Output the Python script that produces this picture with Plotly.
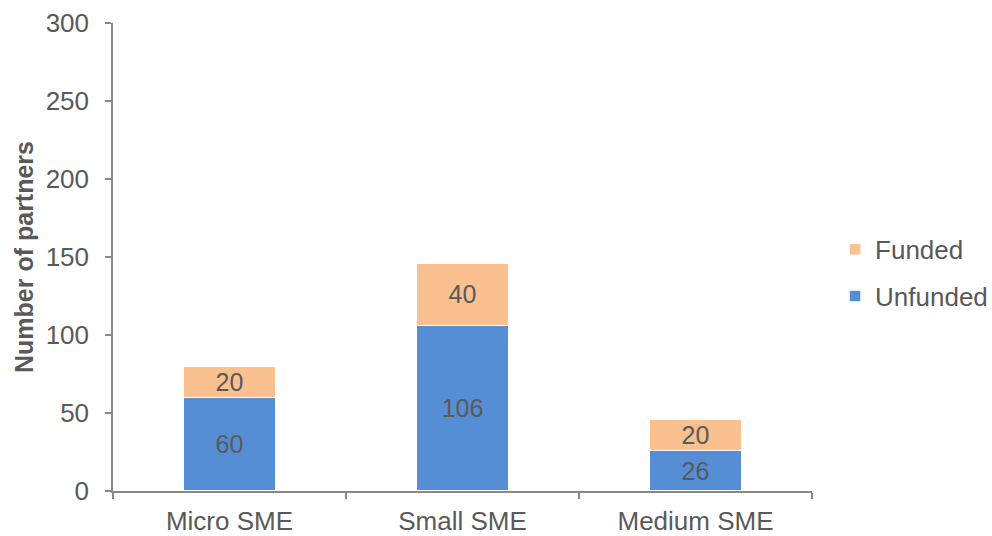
import plotly.graph_objects as go

categories = ["Micro SME", "Small SME", "Medium SME"]
unfunded = [60, 106, 26]
funded = [20, 40, 20]
y_ticks = [0, 50, 100, 150, 200, 250, 300]

TEXT = "#595959"
AXIS = "#888888"
FONT = "Liberation Sans, Arial, sans-serif"
FS = 26

fig = go.Figure()
fig.add_trace(go.Bar(
    x=categories, y=unfunded, name="Unfunded",
    marker=dict(color="#558ED5", line=dict(color="white", width=1.5)),
    text=unfunded, textposition="inside", insidetextanchor="middle", textangle=0,
    textfont=dict(size=25, color=TEXT, family=FONT),
    legendgroup="u", legendrank=2,
))
fig.add_trace(go.Bar(
    x=categories, y=funded, name="Funded",
    marker=dict(color="#FAC090", line=dict(color="white", width=1.5)),
    text=funded, textposition="inside", insidetextanchor="middle", textangle=0,
    textfont=dict(size=25, color=TEXT, family=FONT),
    legendgroup="f", legendrank=1,
))

fig.update_layout(
    barmode="stack",
    bargap=0.6,
    width=992, height=536,
    margin=dict(l=113, r=180, t=23, b=45, autoexpand=False),
    plot_bgcolor="white", paper_bgcolor="white",
    font=dict(family=FONT, color=TEXT, size=FS),
    uniformtext=dict(minsize=25, mode="show"),
    legend=dict(
        x=1.033, y=0.466, xanchor="left", yanchor="middle",
        traceorder="grouped", tracegroupgap=10,
        font=dict(size=FS, color=TEXT, family=FONT),
        itemwidth=30,
    ),
    xaxis=dict(
        showline=True, linecolor=AXIS, linewidth=1.5,
        ticks="outside", tickson="boundaries", ticklen=6, tickcolor=AXIS, tickwidth=1.5,
        tickfont=dict(size=FS, color=TEXT, family=FONT),
        ticklabelstandoff=6,
        showgrid=False,
    ),
    yaxis=dict(
        range=[0, 300], tickvals=y_ticks,
        showline=True, linecolor=AXIS, linewidth=1.5,
        ticks="outside", ticklen=6, tickcolor=AXIS, tickwidth=1.5,
        tickfont=dict(size=FS, color=TEXT, family=FONT),
        ticklabelstandoff=11,
        showgrid=False, zeroline=False,
        title=dict(text="<b>Number of partners</b>", font=dict(size=25, color=TEXT, family=FONT), standoff=5),
    ),
)

fig.write_html("out.html")
